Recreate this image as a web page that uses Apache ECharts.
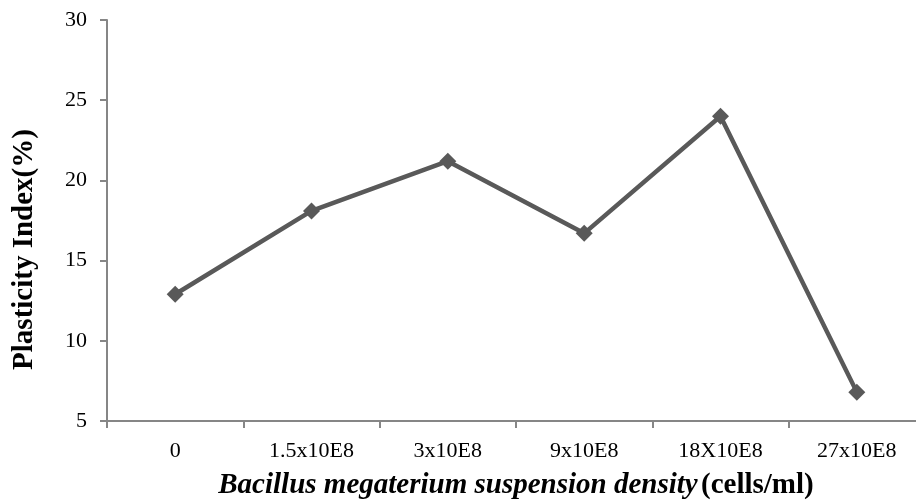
<!DOCTYPE html>
<html lang="en">
<head>
<meta charset="UTF-8">
<title>Plasticity Index</title>
<script src="https://cdn.jsdelivr.net/npm/echarts@6/dist/echarts.min.js"></script>
<style>
  html, body { margin: 0; padding: 0; background: #fff; }
  #main { width: 916px; height: 500px; }
</style>
</head>
<body>
<div id="main"></div>
<script type="text/javascript">
    var categories = ['0', '1.5x10E8', '3x10E8', '9x10E8', '18X10E8', '27x10E8'];
    var plasticity = [12.9, 18.1, 21.2, 16.7, 24.0, 6.8];
    var yTicks = [5, 10, 15, 20, 25, 30];

    var serif = '"Liberation Serif", "Times New Roman", serif';
    var myChart = echarts.init(document.getElementById('main'));

    var option = {
        animation: false,
        backgroundColor: '#ffffff',
        grid: { left: 107, top: 20, width: 818, height: 401, containLabel: false, outerBoundsMode: 'none' },
        xAxis: {
            type: 'category',
            data: categories,
            boundaryGap: true,
            axisLine: { lineStyle: { color: '#868686', width: 2 } },
            axisTick: { show: true, length: 7, lineStyle: { color: '#868686', width: 2 } },
            axisLabel: { color: '#000', fontFamily: serif, fontSize: 22, margin: 19 },
            name: '{i|Bacillus megaterium suspension density} {b|(cells/ml)}',
            nameLocation: 'middle',
            nameGap: 50,
            nameTextStyle: {
                rich: {
                    i: { fontFamily: serif, fontSize: 29, fontWeight: 'bold', fontStyle: 'italic', color: '#000' },
                    b: { fontFamily: serif, fontSize: 29, fontWeight: 'bold', color: '#000' }
                }
            }
        },
        yAxis: {
            type: 'value',
            min: yTicks[0],
            max: yTicks[yTicks.length - 1],
            interval: 5,
            splitLine: { show: false },
            axisLine: { show: true, lineStyle: { color: '#868686', width: 2 } },
            axisTick: { show: true, inside: false, length: 7, lineStyle: { color: '#868686', width: 2 } },
            axisLabel: { color: '#000', fontFamily: serif, fontSize: 22, margin: 20 },
            name: 'Plasticity Index(%)',
            nameLocation: 'middle',
            nameGap: 68,
            nameTextStyle: { fontFamily: serif, fontSize: 29, fontWeight: 'bold', color: '#000', padding: [0, 58, 0, 0] }
        },
        series: [{
            type: 'line',
            data: plasticity,
            symbol: 'diamond',
            symbolSize: 17,
            lineStyle: { color: '#595959', width: 4.5 },
            itemStyle: { color: '#595959' }
        }]
    };

    myChart.setOption(option);
</script>
</body>
</html>
